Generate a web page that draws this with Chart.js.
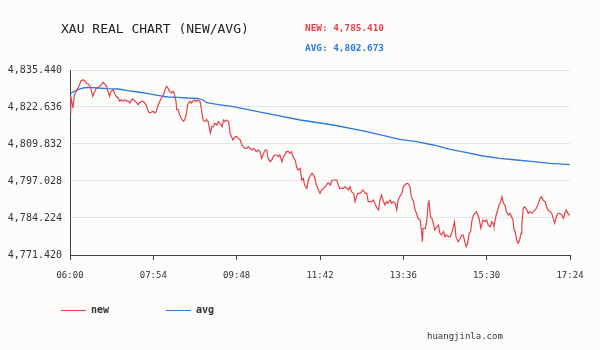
<!DOCTYPE html>
<html>
<head>
<meta charset="utf-8">
<title>XAU real chart</title>
<script src="https://cdn.jsdelivr.net/npm/chart.js@4.4.1/dist/chart.umd.min.js"></script>
<style>
  body { margin: 0; background: #fcfdfb; }
  #wrap { position: relative; width: 600px; height: 350px; font-family: "DejaVu Sans Mono", monospace; color: #222; }
  #myChart { position: absolute; left: 0; top: 0; }
  .txt { position: absolute; white-space: nowrap; line-height: 1; }
  .title { left: 61px; top: 22px; font-size: 13px; }
  .now { left: 305px; font-size: 9.4px; font-weight: bold; }
  .legend-line { position: absolute; top: 310px; width: 25px; height: 1px; }
  .legend-txt { top: 305px; font-size: 10px; font-weight: bold; color: #333; }
  .site { left: 427px; top: 332px; font-size: 9px; color: #333; }
</style>
</head>
<body>
<div id="wrap">
  <canvas id="myChart" width="600" height="350"></canvas>
  <div class="txt title">XAU REAL CHART (NEW/AVG)</div>
  <div class="txt now" id="newNow" style="top:23px;color:#e5414b"></div>
  <div class="txt now" id="avgNow" style="top:42.5px;color:#2a7ae3"></div>
  <div class="legend-line" style="left:61px;background:#e5414b"></div>
  <div class="txt legend-txt" style="left:91px">new</div>
  <div class="legend-line" style="left:166px;background:#2a7ae3"></div>
  <div class="txt legend-txt" style="left:196px">avg</div>
  <div class="txt site">huangjinla.com</div>
</div>
<script>
// minutes after 06:00
const tickMinutes = [0, 114, 228, 342, 456, 570, 684];
const yTicks = [4771.42, 4784.224, 4797.028, 4809.832, 4822.636, 4835.44];
const lastNew = 4785.41;
const lastAvg = 4802.673;

const newMinutes = [
    0, 1, 3, 4, 6, 9, 11, 13, 15, 18,
    20, 22, 25, 27, 29, 31, 33, 36, 39, 43,
    45, 47, 50, 52, 54, 56, 59, 61, 63, 66,
    68, 70, 72, 75, 77, 79, 82, 84, 86, 89,
    91, 93, 95, 98, 100, 102, 104, 107, 109, 111,
    114, 116, 118, 120, 123, 125, 127, 130, 132, 134,
    136, 139, 141, 143, 145, 146, 148, 150, 152, 155,
    157, 159, 161, 164, 166, 168, 171, 173, 175, 178,
    180, 182, 185, 187, 189, 192, 194, 196, 198, 201,
    203, 205, 208, 210, 212, 214, 217, 219, 221, 223,
    226, 228, 230, 233, 235, 237, 239, 242, 244, 246,
    249, 251, 253, 255, 258, 260, 262, 264, 267, 269,
    271, 274, 276, 278, 280, 283, 285, 287, 290, 292,
    294, 296, 299, 301, 303, 305, 308, 310, 312, 315,
    317, 319, 321, 324, 326, 328, 331, 333, 335, 337,
    340, 342, 344, 347, 349, 351, 353, 356, 358, 360,
    363, 365, 367, 369, 372, 374, 376, 379, 381, 383,
    385, 388, 390, 392, 394, 397, 399, 401, 404, 406,
    408, 410, 413, 415, 417, 420, 422, 424, 426, 429,
    431, 433, 435, 438, 440, 442, 445, 447, 449, 451,
    454, 456, 458, 461, 463, 465, 467, 470, 472, 474,
    476, 479, 481, 482, 483, 486, 488, 490, 491, 493,
    495, 497, 499, 502, 504, 506, 508, 511, 513, 515,
    518, 520, 522, 524, 526, 528, 530, 531, 534, 536,
    538, 540, 542, 544, 546, 548, 550, 552, 554, 556,
    558, 560, 562, 563, 565, 568, 570, 572, 575, 577,
    579, 580, 583, 585, 587, 589, 591, 593, 595, 597,
    600, 602, 604, 606, 607, 609, 611, 613, 615, 617,
    618, 619, 620, 622, 625, 627, 629, 632, 634, 636,
    638, 641, 643, 645, 647, 650, 652, 654, 657, 659,
    661, 663, 666, 668, 670, 673, 675, 677, 679, 681,
    683, 684
];

const newValues = [
    4820.56, 4826.44, 4823.67, 4822.29, 4826.89, 4828.17, 4829.21, 4830.35, 4831.63, 4832.08,
    4831.74, 4830.94, 4830.60, 4829.90, 4828.62, 4826.34, 4827.48, 4829.21, 4829.45, 4830.35,
    4831.18, 4830.70, 4829.80, 4828.07, 4826.34, 4828.07, 4828.62, 4827.48, 4826.34, 4825.75,
    4824.61, 4825.16, 4824.61, 4825.16, 4824.61, 4824.82, 4824.02, 4825.16, 4825.40, 4824.61,
    4824.26, 4823.43, 4824.02, 4824.61, 4824.61, 4824.02, 4823.43, 4821.15, 4820.56, 4820.80,
    4821.15, 4820.56, 4821.15, 4822.88, 4824.61, 4825.75, 4826.34, 4828.62, 4829.80, 4829.21,
    4828.07, 4827.48, 4828.07, 4826.89, 4824.61, 4821.70, 4821.70, 4819.97, 4818.83, 4817.69,
    4818.24, 4819.97, 4823.43, 4824.61, 4824.02, 4824.61, 4825.16, 4824.61, 4825.06, 4824.47,
    4821.60, 4818.14, 4817.55, 4818.38, 4817.55, 4813.64, 4815.82, 4815.82, 4817.00, 4816.41,
    4817.55, 4817.00, 4815.82, 4818.14, 4817.55, 4818.14, 4817.55, 4813.53, 4812.36, 4811.22,
    4812.36, 4812.36, 4811.80, 4811.22, 4809.49, 4808.90, 4808.34, 4808.34, 4808.90, 4808.34,
    4807.76, 4808.34, 4807.76, 4807.17, 4807.76, 4807.17, 4804.88, 4806.03, 4807.76, 4807.76,
    4804.88, 4803.71, 4804.30, 4805.44, 4806.03, 4806.03, 4805.44, 4806.03, 4803.71, 4805.44,
    4806.03, 4807.17, 4807.17, 4806.61, 4807.17, 4805.44, 4804.30, 4801.98, 4800.83, 4801.42,
    4797.37, 4797.96, 4795.64, 4794.50, 4797.37, 4798.52, 4799.69, 4799.10, 4797.96, 4795.64,
    4793.91, 4792.77, 4793.91, 4794.50, 4795.06, 4795.64, 4796.44, 4795.64, 4797.13, 4797.37,
    4797.37, 4797.37, 4795.64, 4794.50, 4794.50, 4794.50, 4795.06, 4794.50, 4793.91, 4795.06,
    4793.33, 4792.77, 4789.87, 4791.60, 4792.77, 4792.77, 4793.33, 4793.91, 4792.77, 4792.77,
    4789.87, 4789.87, 4789.87, 4790.45, 4789.31, 4787.58, 4786.99, 4790.45, 4792.18, 4789.87,
    4788.72, 4789.87, 4789.31, 4790.45, 4789.31, 4789.87, 4789.31, 4786.99, 4790.45, 4791.60,
    4792.77, 4795.06, 4795.64, 4796.23, 4795.99, 4795.06, 4791.60, 4789.87, 4786.99, 4785.85,
    4784.12, 4783.53, 4779.48, 4776.02, 4780.66, 4780.66, 4782.94, 4789.31, 4790.45, 4784.67,
    4784.12, 4782.39, 4780.07, 4781.21, 4781.80, 4778.93, 4778.34, 4779.48, 4777.75, 4778.34,
    4777.75, 4777.75, 4778.93, 4780.66, 4782.94, 4777.75, 4776.61, 4776.02, 4777.20, 4778.34,
    4778.34, 4776.02, 4774.29, 4775.47, 4778.93, 4779.48, 4783.53, 4785.26, 4785.85, 4786.40,
    4785.26, 4783.53, 4780.66, 4781.80, 4783.53, 4782.94, 4783.53, 4781.80, 4781.21, 4782.94,
    4782.39, 4781.21, 4785.26, 4786.99, 4788.72, 4789.87, 4791.60, 4789.31, 4788.72, 4786.40,
    4785.26, 4785.85, 4784.67, 4783.53, 4780.66, 4779.48, 4776.61, 4775.47, 4776.61, 4778.93,
    4781.21, 4784.67, 4787.58, 4788.14, 4786.99, 4785.85, 4786.40, 4785.85, 4786.40, 4786.99,
    4787.58, 4789.31, 4791.04, 4791.60, 4790.45, 4789.87, 4788.14, 4786.99, 4786.40, 4785.85,
    4784.12, 4782.39, 4785.26, 4785.85, 4785.85, 4785.26, 4784.12, 4785.85, 4786.99, 4785.85,
    4785.26, 4785.41
];

const avgMinutes = [0, 6, 11, 18, 25, 38, 52, 66, 79, 93, 107, 120, 134, 148, 161, 175, 182, 187,
    201, 223, 269, 315, 360, 406, 451, 474, 497, 520, 543, 565, 588, 611, 634, 657, 684];
const avgValues = [4827.13, 4828.07, 4828.62, 4829.21, 4829.45, 4829.21, 4828.97, 4828.87, 4828.28,
    4827.83, 4827.24, 4826.68, 4826.10, 4825.99, 4825.75, 4825.65, 4825.06, 4824.12, 4823.57,
    4822.74, 4820.46, 4818.14, 4816.41, 4814.09, 4811.46, 4810.63, 4809.49, 4808.00, 4806.82,
    4805.68, 4804.88, 4804.30, 4803.71, 4803.15, 4802.67];

const fmtPrice = (v, d) => Number(v).toLocaleString('en-US', { minimumFractionDigits: d, maximumFractionDigits: d });

const fmtTime = (m) => {
    const t = 360 + m;
    const hh = String(Math.floor(t / 60)).padStart(2, '0');
    const mm = String(t % 60).padStart(2, '0');
    return hh + ':' + mm;
};

const toPoints = (xs, ys) => xs.map((x, i) => ({ x: x, y: ys[i] }));

document.getElementById('newNow').textContent = 'NEW: ' + fmtPrice(lastNew, 3);
document.getElementById('avgNow').textContent = 'AVG: ' + fmtPrice(lastAvg, 3);

const mono = 'DejaVu Sans Mono';

const renderChart = () => {
    const ctx = document.getElementById('myChart').getContext('2d');

    new Chart(ctx, {
        type: 'line',
        data: {
            datasets: [{
                label: 'new',
                data: toPoints(newMinutes, newValues),
                borderColor: '#e5414b',
                borderWidth: 1.2,
                pointRadius: 0,
                tension: 0
            }, {
                label: 'avg',
                data: toPoints(avgMinutes, avgValues),
                borderColor: '#2a7ae3',
                borderWidth: 1.3,
                pointRadius: 0,
                tension: 0
            }]
        },
        options: {
            responsive: false,
            animation: false,
            events: [],
            layout: { padding: { top: 70, right: 30, left: 0, bottom: 0 } },
            plugins: {
                legend: { display: false },
                tooltip: { enabled: false }
            },
            scales: {
                x: {
                    type: 'linear',
                    min: 0,
                    max: 684,
                    afterBuildTicks: (s) => { s.ticks = tickMinutes.map((v) => ({ value: v })); },
                    afterFit: (s) => { s.height = 95; },
                    ticks: {
                        callback: (v) => fmtTime(v),
                        font: { family: mono, size: 9 },
                        color: '#333',
                        padding: 10,
                        maxRotation: 0,
                        autoSkip: false
                    },
                    grid: { drawOnChartArea: false, drawTicks: true, tickLength: 5, color: '#444' },
                    border: { color: '#444', width: 1 }
                },
                y: {
                    min: 4771.42,
                    max: 4835.44,
                    afterBuildTicks: (s) => { s.ticks = yTicks.map((v) => ({ value: v })); },
                    afterFit: (s) => { s.width = 70; },
                    ticks: {
                        callback: (v) => fmtPrice(v, 3),
                        font: { family: mono, size: 10 },
                        color: '#333',
                        padding: 8
                    },
                    grid: { color: '#e6e6ea', drawTicks: false },
                    border: { color: '#444', width: 1 }
                }
            }
        }
    });
};

window.addEventListener('load', renderChart);
</script>
</body>
</html>
